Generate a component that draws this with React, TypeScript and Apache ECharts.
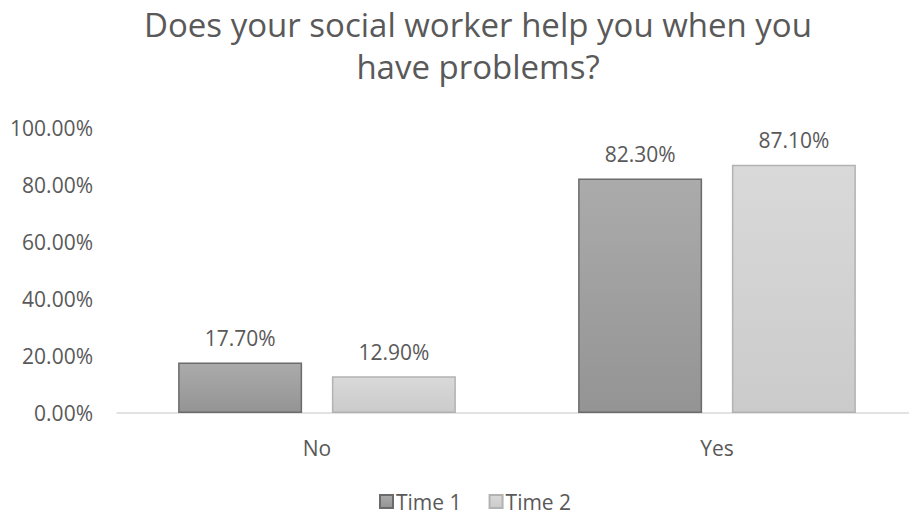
import React, { useEffect, useRef } from "react";
import * as echarts from "echarts";

const categories = ["No", "Yes"];
const time1 = [17.7, 82.3];
const time2 = [12.9, 87.1];
const seriesNames = ["Time 1", "Time 2"];
const yTicks = { min: 0, max: 100, interval: 20 };

const FONT = "'Open Sans', 'Noto Sans', sans-serif";
const TXT = "#595959";

export default function App() {
  const ref = useRef<HTMLDivElement>(null);
  useEffect(() => {
    const chart = echarts.init(ref.current!, undefined, { renderer: "svg" });
    const grad = (a: string, b: string) =>
      new echarts.graphic.LinearGradient(0, 0, 0, 1, [
        { offset: 0, color: a },
        { offset: 1, color: b },
      ]);
    const label = {
      show: true,
      position: "top",
      distance: 14,
      color: TXT,
      fontSize: 21,
      fontFamily: FONT,
      formatter: (p: any) => p.value.toFixed(2) + "%",
    };
    chart.setOption({
      animation: false,
      textStyle: { fontFamily: FONT },
      title: {
        text: "Does your social worker help you when you\nhave problems?",
        left: 478,
        top: 3,
        padding: 0,
        textAlign: "center",
        textStyle: {
          color: TXT,
          fontSize: 33,
          fontWeight: "normal",
          fontFamily: FONT,
          lineHeight: 42,
        },
      },
      legend: {
        left: 374,
        top: 486,
        itemWidth: 13,
        itemHeight: 13,
        itemGap: 27,
        icon: "rect",
        textStyle: { color: TXT, fontSize: 21, fontFamily: FONT, padding: [0, 0, 0, -2] },
        data: seriesNames,
      },
      grid: { left: 117, top: 128, width: 800, height: 285, containLabel: false },
      xAxis: {
        type: "category",
        data: categories,
        axisLine: { lineStyle: { color: "#d9d9d9", width: 1.5 } },
        axisTick: { show: false },
        axisLabel: { color: TXT, fontSize: 21, fontFamily: FONT, margin: 24 },
      },
      yAxis: {
        type: "value",
        min: yTicks.min,
        max: yTicks.max,
        interval: yTicks.interval,
        axisLine: { show: false },
        axisTick: { show: false },
        splitLine: { show: false },
        axisLabel: {
          color: TXT,
          fontSize: 21,
          fontFamily: FONT,
          margin: 24,
          formatter: (v: number) => v.toFixed(2) + "%",
        },
      },
      series: [
        {
          name: seriesNames[0],
          type: "bar",
          data: time1,
          barWidth: 124,
          barGap: "24%",
          itemStyle: { color: grad("#ababab", "#949494"), borderColor: "#6b6b6b", borderWidth: 1.5 },
          label,
        },
        {
          name: seriesNames[1],
          type: "bar",
          data: time2,
          barWidth: 124,
          itemStyle: { color: grad("#d9d9d9", "#cbcbcb"), borderColor: "#b2b2b2", borderWidth: 1.5 },
          label,
        },
      ],
    });
    return () => chart.dispose();
  }, []);
  return (
    <div style={{ width: 909, height: 515, position: "absolute", left: 0, top: 0, overflow: "hidden" }}>
      <div ref={ref} style={{ width: 925, height: 515 }} />
    </div>
  );
}
